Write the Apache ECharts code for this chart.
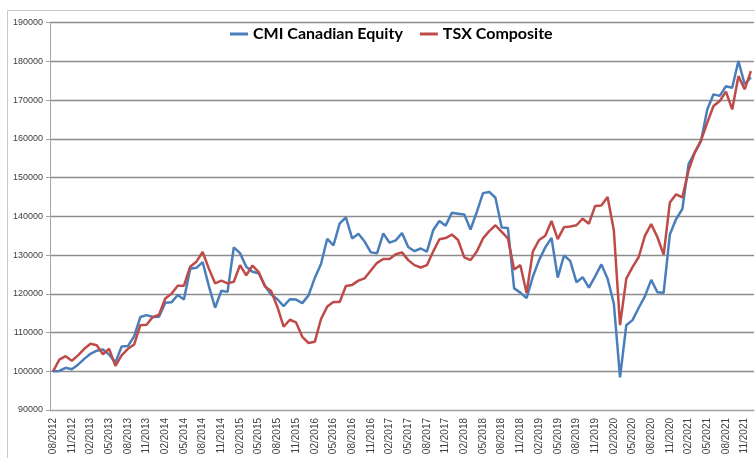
<!DOCTYPE html>
<html>
<head>
<meta charset="utf-8">
<title>CMI Canadian Equity vs TSX Composite</title>
<script src="https://cdn.jsdelivr.net/npm/echarts@6/dist/echarts.min.js"></script>
<style>
  html, body { margin: 0; padding: 0; background: #fff; }
  #chart { width: 755px; height: 458px; }
</style>
</head>
<body>
<div id="chart"></div>
<script>
// monthly growth of 100000, 08/2012 .. 12/2021
const startYear = 2012
const startMonth = 8
const monthCount = 113

const cmiEquity = [
  100000, 100100, 100900, 100500, 101700, 103200, 104500, 105300, 105600, 104300,
  102300, 106400, 106500, 109000, 114000, 114500, 114000, 114100, 117700, 117800,
  119700, 118500, 126500, 126700, 128200, 122000, 116400, 120800, 120500, 132000,
  130500, 127000, 125700, 125300, 122100, 119800, 118600, 116800, 118600, 118500,
  117600, 119600, 124100, 127700, 134200, 132500, 138200, 139700, 134300, 135500,
  133500, 130700, 130500, 135600, 133200, 133800, 135700, 132100, 131000, 131700,
  130900, 136400, 138800, 137600, 140900, 140700, 140500, 136600, 141100, 146000,
  146300, 144800, 137100, 137000, 121400, 120300, 118900, 124400, 128700, 132000,
  134400, 124200, 129900, 128500, 123000, 124300, 121600, 124500, 127600, 123900,
  117500, 98400, 111900, 113200, 116400, 119400, 123600, 120400, 120300, 135400,
  139300, 141900, 153500, 156500, 159500, 167600, 171500, 171100, 173600, 173200,
  180100, 174100, 175900
]

const tsxComposite = [
  100000, 103000, 103900, 102700, 104100, 105800, 107100, 106700, 104400, 105800,
  101400, 104100, 105800, 106900, 111900, 112000, 114000, 114600, 118800, 120000,
  122100, 122100, 127000, 128300, 130800, 126500, 122700, 123400, 122700, 123100,
  127400, 124800, 127300, 125600, 121900, 120700, 116600, 111500, 113300, 112600,
  108900, 107300, 107600, 113500, 116700, 117900, 117900, 122000, 122300, 123400,
  124000, 126000, 128000, 129000, 129000, 130200, 130700, 128700, 127400, 126800,
  127400, 130900, 134100, 134400, 135300, 133900, 129400, 128700, 130900, 134300,
  136200, 137700, 136000, 134300, 126300, 127400, 120200, 130900, 133900, 135000,
  138800, 134100, 137200, 137400, 137700, 139400, 138100, 142700, 142800, 145000,
  136400, 111900, 123900, 126900, 129500, 135000, 138000, 134600, 130100, 143600,
  145700, 144900, 151900, 156500, 159600, 164200, 168500, 169800, 172200, 167600,
  176200, 172800, 177500
]

// category labels mm/yyyy
const months = []
for (let i = 0; i < monthCount; i++) {
  const m = (startMonth - 1 + i) % 12 + 1
  const y = startYear + Math.floor((startMonth - 1 + i) / 12)
  months.push(String(m).padStart(2, '0') + '/' + y)
}

const chart = echarts.init(document.getElementById('chart'), null, { renderer: 'canvas' })

chart.setOption({
  animation: false,
  backgroundColor: '#fff',
  graphic: [{
    type: 'rect',
    shape: { x: 7.5, y: 10.5, width: 800, height: 500 },
    style: { fill: 'none', stroke: '#c9c9c9', lineWidth: 1 },
    silent: true
  }],
  legend: {
    left: 225,
    top: 21,
    itemGap: 17,
    itemWidth: 18,
    itemHeight: 3,
    icon: 'rect',
    textStyle: {
      fontFamily: 'Lato, "Liberation Sans", sans-serif',
      fontWeight: 'bold',
      fontSize: 16,
      color: '#000'
    },
    data: ['CMI Canadian Equity', 'TSX Composite']
  },
  grid: { left: 50, right: 1, top: 22.7, bottom: 48, containLabel: false },
  xAxis: {
    type: 'category',
    data: months,
    boundaryGap: true,
    axisLine: { lineStyle: { color: '#a6a6a6', width: 1 } },
    axisTick: { interval: 2, length: 4, lineStyle: { color: '#a6a6a6' } },
    axisLabel: {
      interval: 2,
      rotate: 90,
      margin: 8,
      fontSize: 10,
      fontFamily: '"Liberation Sans", Arial, sans-serif',
      color: '#404040'
    },
    splitLine: { show: false }
  },
  yAxis: {
    type: 'value',
    min: 90000,
    max: 190000,
    interval: 10000,
    axisLine: { show: true, lineStyle: { color: '#a6a6a6', width: 1 } },
    axisTick: { show: true, length: 4, lineStyle: { color: '#a6a6a6' } },
    axisLabel: {
      margin: 7,
      fontSize: 9,
      fontFamily: '"Liberation Sans", Arial, sans-serif',
      color: '#404040',
      formatter: v => String(v)
    },
    splitLine: { lineStyle: { color: '#8c8c8c', width: 1.3 } }
  },
  series: [
    {
      name: 'CMI Canadian Equity',
      type: 'line',
      data: cmiEquity,
      symbol: 'none',
      color: '#4a7ebb',
      lineStyle: { width: 2.5, color: '#4a7ebb' },
      z: 2
    },
    {
      name: 'TSX Composite',
      type: 'line',
      data: tsxComposite,
      symbol: 'none',
      color: '#be4b48',
      lineStyle: { width: 2.5, color: '#be4b48' },
      z: 3
    }
  ]
})
</script>
</body>
</html>
